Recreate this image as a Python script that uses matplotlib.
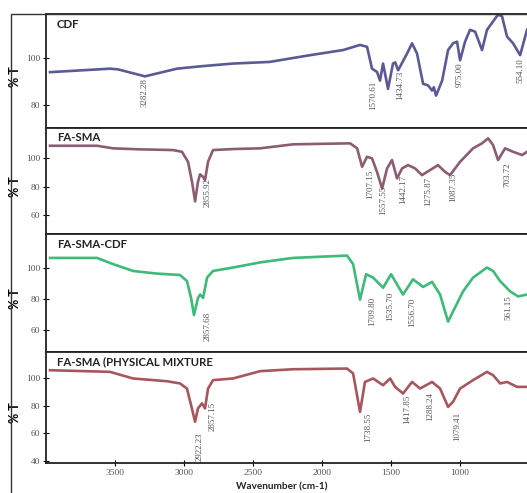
import matplotlib.pyplot as plt
from matplotlib.patches import Rectangle

# wavenumber (cm-1) and %T
cdf_wn = [3971, 3536, 3478, 3283, 3051, 2884, 2645, 2380, 2087, 1848, 1725, 1674,
          1638, 1602, 1580, 1558, 1522, 1486, 1470, 1449, 1384, 1348, 1312, 1268,
          1232, 1203, 1190, 1174, 1130, 1087, 1051, 1022, 1000, 964, 928, 891, 841,
          805, 761, 725, 696, 660, 616, 565, 515]
cdf_t = [94.0, 95.5, 95.2, 92.2, 95.5, 96.5, 97.7, 98.4, 101.3, 103.5, 105.7, 104.9,
         95.5, 94.1, 90.4, 97.7, 86.8, 97.7, 98.2, 94.8, 102.0, 106.4, 102.0, 89.0,
         88.3, 86.1, 87.5, 83.9, 90.4, 103.5, 106.4, 107.1, 99.1, 107.1, 112.2, 111.4, 103.5,
         112.2, 115.8, 118.7, 118.0, 109.3, 106.4, 101.3, 112.2]

fasma_wn = [3971, 3630, 3514, 3319, 3080, 3015, 2971, 2942, 2920, 2899, 2884, 2862,
            2848, 2826, 2790, 2645, 2449, 2210, 1797, 1746, 1710, 1674, 1638, 1602,
            1565, 1529, 1493, 1457, 1420, 1377, 1326, 1276, 1218, 1160, 1109, 1073,
            1000, 906, 841, 797, 761, 725, 674, 616, 551, 515]
fasma_t = [108.6, 108.6, 106.8, 106.1, 105.6, 104.4, 97.4, 83.4, 69.8, 83.4, 88.6, 86.9,
           84.6, 97.4, 105.6, 106.3, 106.8, 109.6, 110.3, 106.8, 93.9, 100.9, 99.8, 90.4,
           78.7, 92.8, 98.6, 85.8, 92.8, 95.1, 92.8, 88.1, 91.6, 95.1, 90.4, 88.1,
           97.4, 106.8, 110.3, 113.8, 109.1, 98.6, 106.8, 104.4, 102.1, 104.4]

fasma_cdf_wn = [3971, 3630, 3514, 3370, 3196, 3029, 2979, 2949, 2928, 2899, 2884, 2862,
                2833, 2790, 2645, 2449, 2210, 1819, 1775, 1725, 1681, 1630, 1558, 1500,
                1457, 1413, 1341, 1268, 1203, 1145, 1109, 1087, 1051, 978, 906, 805,
                761, 710, 638, 580, 515]
fasma_cdf_t = [106.6, 106.6, 102.6, 98.2, 96.5, 95.6, 91.7, 80.8, 69.8, 80.8, 83.0, 80.8,
               93.9, 98.2, 100.4, 103.7, 106.6, 108.1, 102.6, 79.7, 96.1, 93.9, 87.4, 96.1,
               89.5, 83.0, 92.8, 87.9, 91.2, 83.0, 72.1, 65.6, 72.1, 85.1, 93.9, 100.4,
               98.2, 91.7, 85.1, 81.8, 83.0]

mix_wn = [3971, 3536, 3370, 3123, 3029, 2979, 2949, 2920, 2899, 2870, 2848, 2826,
          2790, 2645, 2449, 2210, 1819, 1775, 1725, 1689, 1630, 1558, 1507, 1471,
          1413, 1348, 1290, 1203, 1145, 1087, 1051, 1000, 906, 805, 761, 710, 660,
          587, 515]
mix_t = [105.8, 104.6, 99.8, 97.8, 96.2, 92.5, 80.5, 68.4, 78.1, 81.7, 78.1, 92.5,
         98.6, 99.8, 105.1, 106.5, 107.0, 103.4, 75.6, 97.3, 99.8, 94.9, 99.8, 93.7,
         88.9, 97.3, 92.5, 97.3, 92.5, 79.2, 82.9, 92.5, 98.6, 104.6, 102.2, 96.2, 97.3,
         93.7, 93.7]

# peak labels: text, wavenumber, %T at the top of the text
cdf_peaks = [("3282.28", 3283, 91.3), ("1570.61", 1630, 90.4), ("1434.73", 1435, 94.8),
             ("975.00", 1000, 98.3), ("554.10", 565, 100.0)]
fasma_peaks = [("2855.92", 2826, 86.0), ("1707.15", 1652, 91.6), ("1557.55", 1558, 81.0),
               ("1442.17", 1413, 88.1), ("1275.87", 1232, 86.7), ("1087.35", 1051, 89.5),
               ("703.72", 660, 97.2)]
fasma_cdf_peaks = [("2857.68", 2826, 71.8), ("1709.80", 1638, 81.6), ("1535.70", 1507, 84.9),
                   ("1556.70", 1348, 81.0), ("561.15", 652, 82.3)]
mix_peaks = [("2922.23", 2884, 61.0), ("2857.15", 2790, 82.6), ("1738.55", 1667, 74.7),
             ("1417.85", 1384, 87.7), ("1288.24", 1218, 89.9), ("1079.41", 1022, 75.4)]

panels = [
    ("CDF", cdf_wn, cdf_t, cdf_peaks, "#5a5a96", (70, 119), [80, 100]),
    ("FA-SMA", fasma_wn, fasma_t, fasma_peaks, "#8c5c72", (47, 121), [60, 80, 100]),
    ("FA-SMA-CDF", fasma_cdf_wn, fasma_cdf_t, fasma_cdf_peaks, "#3dbb78", (46, 122), [60, 80, 100]),
    ("FA-SMA (PHYSICAL MIXTURE", mix_wn, mix_t, mix_peaks, "#a8565c", (38.5, 119), [40, 60, 80, 100]),
]

W, H = 527, 493
fig = plt.figure(figsize=(5.27, 4.93), dpi=100)

# outer frame
fig.patches.append(Rectangle((11 / W, -0.05), 1.2, (493 - 14) / H + 0.05,
                             transform=fig.transFigure, fill=False,
                             edgecolor="#333333", linewidth=1.0))

edges = [14, 128, 234, 352, 463]
left = 46 / W
width = (536 - 46) / W

tick_font = {"family": "Liberation Serif", "size": 6.8, "color": "#555555"}

for i, (name, wn, t, peaks, color, ylim, yticks) in enumerate(panels):
    top, bottom = edges[i], edges[i + 1]
    ax = fig.add_axes([left, 1 - bottom / H, width, (bottom - top) / H])
    ax.plot(wn, t, color=color, linewidth=1.9)
    ax.set_xlim(4000, 450)
    ax.set_ylim(*ylim)
    ax.set_yticks(yticks)
    ax.set_yticklabels([str(v) for v in yticks], fontdict=tick_font)
    ax.tick_params(axis="y", direction="inout", length=4, width=0.8, pad=2)
    for s in ax.spines.values():
        s.set_linewidth(1.3)
        s.set_color("#222222")
    ax.text(0.022, 0.96, name, transform=ax.transAxes, va="top", ha="left",
            fontsize=8.2, fontweight="bold", family="Lato", color="#222222")
    ax.set_ylabel("% T", fontsize=9, fontweight="bold", family="Lato")
    ax.yaxis.set_label_coords(-0.052, 0.45)
    for label, x, y in peaks:
        ax.text(x, y, label, rotation=90, ha="center", va="top",
                fontsize=6.5, family="Liberation Serif", color="#555555")
    if i < 3:
        ax.set_xticks([])
    else:
        xt = [3500, 3000, 2500, 2000, 1500, 1000]
        ax.set_xticks(xt)
        ax.set_xticklabels([str(v) for v in xt], fontdict=tick_font)
        ax.tick_params(axis="x", direction="inout", length=4, width=0.8, pad=2)

fig.text(282 / W, 1 - 487 / H, "Wavenumber (cm-1)", ha="center", va="center",
         fontsize=7.2, fontweight="bold", family="Lato", color="#222222")

fig.savefig("out.png", dpi=100)
